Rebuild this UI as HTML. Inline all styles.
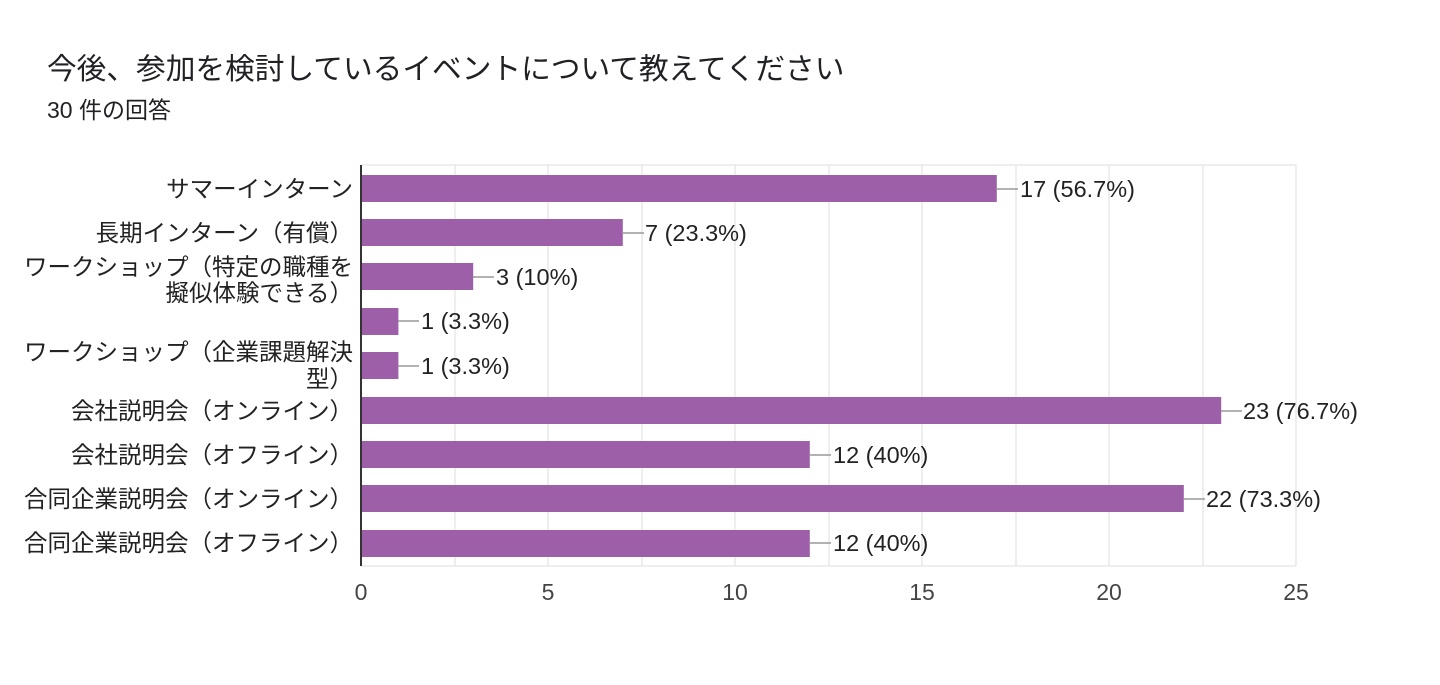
<!DOCTYPE html><html><head><meta charset="utf-8"><style>body{margin:0;background:#fff}svg{display:block}</style></head><body>
<svg width="1440" height="685" xmlns="http://www.w3.org/2000/svg" font-family="Liberation Sans, Noto Sans CJK JP, sans-serif">
<text x="47" y="79" font-size="29.7" fill="#202124">今後、参加を検討しているイベントについて教えてください</text>
<text x="47" y="118" font-size="23" fill="#202124">30 件の回答</text>
<g stroke="#e8e8e8" stroke-width="1.5">
<line x1="455" y1="165" x2="455" y2="566"/><line x1="548" y1="165" x2="548" y2="566"/><line x1="642" y1="165" x2="642" y2="566"/><line x1="735" y1="165" x2="735" y2="566"/><line x1="829" y1="165" x2="829" y2="566"/><line x1="922" y1="165" x2="922" y2="566"/><line x1="1016" y1="165" x2="1016" y2="566"/><line x1="1109" y1="165" x2="1109" y2="566"/><line x1="1203" y1="165" x2="1203" y2="566"/><line x1="1296" y1="165" x2="1296" y2="566"/>
<line x1="361" y1="165" x2="1296" y2="165"/><line x1="361" y1="566" x2="1296" y2="566"/>
</g>
<g fill="#9c5fa8">
<rect x="361" y="175" width="635.8" height="27"/>
<rect x="361" y="219" width="261.8" height="27"/>
<rect x="361" y="263" width="112.2" height="27"/>
<rect x="361" y="308" width="37.4" height="27"/>
<rect x="361" y="352" width="37.4" height="27"/>
<rect x="361" y="397" width="860.2" height="27"/>
<rect x="361" y="441" width="448.8" height="27"/>
<rect x="361" y="485" width="822.8" height="27"/>
<rect x="361" y="530" width="448.8" height="27"/>
</g>
<line x1="361" y1="165" x2="361" y2="566" stroke="#333" stroke-width="2"/>
<g stroke="#999" stroke-width="1.5">
<line x1="997" y1="189" x2="1018" y2="189"/><line x1="623" y1="233" x2="644" y2="233"/><line x1="473" y1="277" x2="494" y2="277"/><line x1="398" y1="321" x2="419" y2="321"/><line x1="398" y1="366" x2="419" y2="366"/><line x1="1221" y1="411" x2="1242" y2="411"/><line x1="810" y1="455" x2="831" y2="455"/><line x1="1184" y1="499" x2="1205" y2="499"/><line x1="810" y1="543" x2="831" y2="543"/>
</g>
<g font-size="23.5" fill="#222">
<text x="1020" y="197">17 (56.7%)</text><text x="645" y="241">7 (23.3%)</text><text x="496" y="285">3 (10%)</text><text x="421" y="329">1 (3.3%)</text><text x="421" y="374">1 (3.3%)</text><text x="1243" y="419">23 (76.7%)</text><text x="833" y="463">12 (40%)</text><text x="1206" y="507">22 (73.3%)</text><text x="833" y="551">12 (40%)</text>
</g>
<g font-size="23.5" fill="#222" text-anchor="end">
<text x="353" y="197">サマーインターン</text>
<text x="353" y="241">長期インターン（有償）</text>
<text x="353" y="275">ワークショップ（特定の職種を</text>
<text x="353" y="301">擬似体験できる）</text>
<text x="353" y="360">ワークショップ（企業課題解決</text>
<text x="353" y="387">型）</text>
<text x="353" y="419">会社説明会（オンライン）</text>
<text x="353" y="463">会社説明会（オフライン）</text>
<text x="353" y="507">合同企業説明会（オンライン）</text>
<text x="353" y="551">合同企業説明会（オフライン）</text>
</g>
<g font-size="23" fill="#444" text-anchor="middle">
<text x="361" y="600">0</text><text x="548" y="600">5</text><text x="735" y="600">10</text><text x="922" y="600">15</text><text x="1109" y="600">20</text><text x="1296" y="600">25</text>
</g>
</svg></body></html>
